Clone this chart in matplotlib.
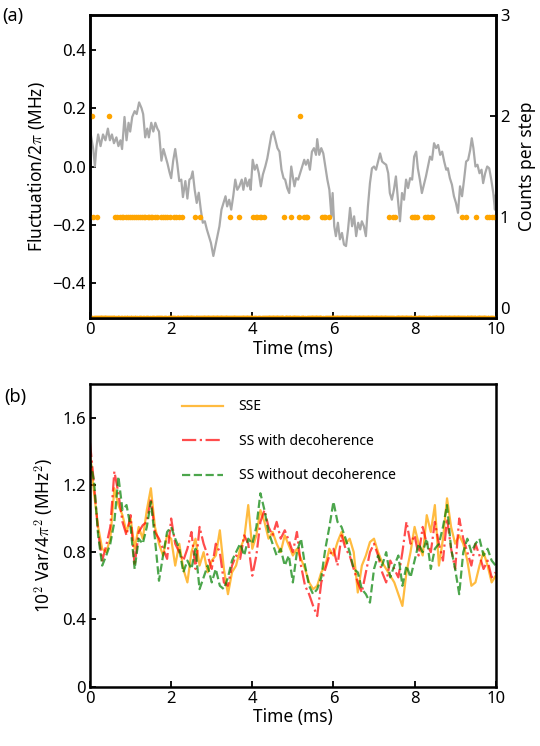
import numpy as np
import matplotlib
matplotlib.use('Agg')
import matplotlib.pyplot as plt

plt.rcParams['font.family'] = ['Noto Sans', 'DejaVu Sans']
plt.rcParams['mathtext.fontset'] = 'cm'
plt.rcParams['font.size'] = 12

# panel (a): fluctuation trace (ms, MHz)
t_fluct = [0.00, 0.03, 0.08, 0.12, 0.16, 0.20, 0.26, 0.32, 0.38, 0.44, 0.49, 0.54, 0.59, 0.65, 0.70, 0.75,
           0.79, 0.85, 0.90, 0.95, 0.99, 1.04, 1.10, 1.15, 1.21, 1.27, 1.31, 1.36, 1.41, 1.45, 1.51, 1.56,
           1.61, 1.66, 1.70, 1.76, 1.81, 1.85, 1.91, 1.96, 2.00, 2.05, 2.10, 2.15, 2.20, 2.25, 2.29, 2.35,
           2.40, 2.45, 2.49, 2.53, 2.58, 2.63, 2.68, 2.73, 2.78, 2.83, 2.88, 2.93, 2.98, 3.04, 3.09, 3.14,
           3.19, 3.24, 3.29, 3.34, 3.38, 3.43, 3.48, 3.53, 3.58, 3.63, 3.68, 3.74, 3.78, 3.83, 3.88, 3.93,
           3.96, 4.01, 4.06, 4.11, 4.16, 4.21, 4.26, 4.32, 4.37, 4.42, 4.47, 4.52, 4.57, 4.62, 4.67, 4.72,
           4.77, 4.81, 4.86, 4.91, 4.96, 5.01, 5.04, 5.08, 5.13, 5.18, 5.23, 5.28, 5.32, 5.37, 5.42, 5.47,
           5.52, 5.57, 5.60, 5.65, 5.70, 5.75, 5.80, 5.85, 5.90, 5.95, 5.98, 6.02, 6.06, 6.11, 6.16, 6.21,
           6.26, 6.31, 6.36, 6.41, 6.46, 6.51, 6.56, 6.61, 6.66, 6.70, 6.75, 6.80, 6.85, 6.90, 6.95, 7.00,
           7.05, 7.10, 7.15, 7.20, 7.25, 7.30, 7.35, 7.39, 7.44, 7.49, 7.54, 7.59, 7.64, 7.69, 7.74, 7.79,
           7.84, 7.89, 7.94, 7.99, 8.04, 8.08, 8.13, 8.18, 8.23, 8.28, 8.33, 8.38, 8.43, 8.48, 8.53, 8.58,
           8.63, 8.68, 8.73, 8.78, 8.82, 8.87, 8.92, 8.97, 9.02, 9.07, 9.12, 9.17, 9.22, 9.27, 9.32, 9.37,
           9.41, 9.45, 9.50, 9.55, 9.60, 9.65, 9.69, 9.74, 9.79, 9.84, 9.89, 9.94, 9.98, 10.0]
fluct = [0.13, 0.10, 0.06, 0.00, 0.07, 0.11, 0.07, 0.11, 0.09, 0.13, 0.09, 0.11, 0.08, 0.10, 0.07, 0.09,
         0.06, 0.17, 0.09, 0.15, 0.12, 0.17, 0.19, 0.18, 0.22, 0.20, 0.18, 0.10, 0.13, 0.10, 0.15, 0.12,
         0.15, 0.13, 0.12, 0.02, 0.06, 0.04, 0.01, -0.02, -0.04, 0.02, 0.06, 0.01, -0.05, -0.045, -0.105, -0.05,
         -0.11, -0.045, -0.04, -0.017, -0.08, -0.125, -0.09, -0.148, -0.193, -0.188, -0.216, -0.239, -0.262, -0.307, -0.273, -0.239,
         -0.205, -0.148, -0.125, -0.102, -0.137, -0.114, -0.148, -0.102, -0.045, -0.08, -0.068, -0.045, -0.08, -0.04, -0.068, -0.045,
         -0.08, 0.023, -0.011, 0.006, -0.023, -0.068, -0.028, 0.0, 0.028, 0.068, 0.108, 0.12, 0.091, 0.063, 0.051, -0.011,
         -0.04, -0.045, -0.074, -0.091, 0.0, -0.045, -0.068, -0.04, -0.045, -0.023, 0.0, 0.023, 0.006, 0.023, -0.011, 0.051,
         0.063, 0.04, 0.094, 0.04, 0.063, 0.045, 0.0, -0.045, -0.08, -0.171, -0.091, -0.205, -0.239, -0.193, -0.25, -0.228,
         -0.268, -0.273, -0.216, -0.142, -0.205, -0.171, -0.239, -0.193, -0.216, -0.188, -0.205, -0.239, -0.137, -0.057, -0.006, 0.0,
         -0.011, 0.017, 0.045, 0.017, 0.011, 0.006, -0.023, -0.091, -0.114, -0.08, -0.034, -0.114, -0.188, -0.091, -0.114, -0.045,
         -0.074, -0.04, -0.045, 0.034, 0.051, -0.006, -0.045, -0.091, -0.062, -0.034, 0.0, 0.034, 0.023, 0.08, 0.063, 0.074,
         0.04, 0.051, 0.017, -0.011, -0.006, -0.04, -0.062, -0.102, -0.125, -0.159, -0.068, -0.102, -0.045, 0.017, 0.023, 0.057,
         0.097, 0.063, 0.0, 0.006, -0.023, -0.011, -0.057, -0.023, 0.0, -0.006, -0.045, -0.091, -0.148, -0.10]

# click counts per time step
dt_step = 0.02
t_one = [0.08, 0.18, 0.62, 0.66, 0.74, 0.78, 0.82, 0.88, 0.94, 0.98, 1.04, 1.08, 1.14, 1.18, 1.22, 1.28,
         1.32, 1.36, 1.42, 1.46, 1.50, 1.54, 1.60, 1.66, 1.76, 1.80, 1.84, 1.90, 1.98, 2.08, 2.12, 2.20,
         2.26, 2.58, 2.70, 3.46, 3.68, 4.02, 4.08, 4.12, 4.18, 4.22, 4.30, 4.78, 4.96, 5.16, 5.28, 5.32,
         5.36, 5.72, 5.76, 5.80, 5.90, 7.36, 7.46, 7.52, 7.94, 7.98, 8.02, 8.06, 8.26, 8.30, 8.34, 8.40,
         8.44, 9.18, 9.26, 9.52, 9.78, 9.84, 9.90, 9.96]
t_two = [0.06, 0.48, 5.18]

# panel (b): variance traces, 10^2 Var/4pi^2 (MHz^2)
t_var = np.round(np.arange(0, 10.01, 0.1), 2)
var_sse = [1.40, 1.15, 0.95, 0.82, 0.80, 0.88, 1.18, 1.08, 1.02, 0.92, 1.00, 0.82, 0.95, 0.88, 1.05, 1.18,
           0.95, 0.85, 0.78, 0.90, 0.88, 0.72, 0.85, 0.70, 0.62, 0.80, 0.88, 0.72, 0.80, 0.68, 0.75, 0.78,
           0.93, 0.70, 0.55, 0.68, 0.72, 0.82, 0.88, 1.08, 0.82, 0.90, 1.05, 0.98, 0.88, 0.92, 0.85, 0.80,
           0.90, 0.84, 0.78, 0.82, 0.76, 0.70, 0.62, 0.58, 0.60, 0.68, 0.72, 0.82, 0.78, 0.86, 0.92, 0.85,
           0.88, 0.80, 0.56, 0.72, 0.78, 0.86, 0.88, 0.80, 0.74, 0.70, 0.66, 0.62, 0.55, 0.48, 0.68, 0.80,
           0.95, 0.85, 0.78, 1.02, 0.92, 1.08, 0.72, 0.88, 1.12, 0.95, 0.85, 0.90, 0.85, 0.75, 0.60, 0.62,
           0.72, 0.80, 0.72, 0.62, 0.66]
var_ss_dec = [1.45, 1.20, 0.92, 0.75, 0.84, 0.95, 1.28, 1.15, 0.98, 0.90, 1.02, 0.72, 0.92, 0.96, 0.98, 1.12,
              0.92, 0.88, 0.82, 0.76, 1.00, 0.85, 0.80, 0.75, 0.82, 0.92, 0.70, 0.95, 0.85, 0.78, 0.70, 0.85,
              0.80, 0.62, 0.60, 0.72, 0.78, 0.76, 0.90, 0.85, 0.66, 0.78, 0.98, 1.05, 0.95, 0.90, 0.98, 0.88,
              0.93, 0.87, 0.80, 0.92, 0.72, 0.60, 0.55, 0.48, 0.42, 0.62, 0.70, 0.78, 0.82, 0.72, 0.90, 0.82,
              0.78, 0.70, 0.62, 0.56, 0.68, 0.80, 0.85, 0.78, 0.68, 0.62, 0.75, 0.70, 0.65, 0.80, 0.98, 0.85,
              0.90, 0.78, 0.95, 0.85, 0.80, 0.98, 0.85, 0.75, 1.00, 0.82, 0.70, 1.00, 0.88, 0.80, 0.72, 0.85,
              0.78, 0.70, 0.75, 0.65, 0.68]
var_ss_nodec = [1.35, 1.22, 0.90, 0.72, 0.78, 0.85, 0.98, 1.25, 1.05, 1.08, 0.95, 0.70, 0.88, 0.85, 0.95, 1.10,
                0.88, 0.63, 0.78, 0.92, 0.95, 0.88, 0.82, 0.68, 0.75, 0.70, 0.82, 0.58, 0.65, 0.72, 0.62, 0.70,
                0.60, 0.58, 0.65, 0.75, 0.80, 0.85, 0.78, 0.88, 0.85, 0.95, 1.15, 1.05, 0.92, 0.85, 0.78, 0.82,
                0.72, 0.78, 0.62, 0.80, 0.88, 0.72, 0.60, 0.55, 0.58, 0.65, 0.82, 0.95, 1.10, 0.98, 0.95, 0.88,
                0.80, 0.70, 0.68, 0.58, 0.55, 0.50, 0.70, 0.78, 0.72, 0.80, 0.65, 0.72, 0.78, 0.60, 0.72, 0.65,
                0.75, 0.85, 0.80, 0.88, 0.70, 0.82, 0.85, 0.95, 1.08, 0.82, 0.70, 0.55, 0.80, 0.88, 0.80, 0.85,
                0.88, 0.78, 0.82, 0.75, 0.72]

# build counts per step from the event lists
t_steps = np.round(np.arange(0, 10 + dt_step / 2, dt_step), 2)
counts = np.zeros(len(t_steps))
counts[np.rint(np.array(t_one) / dt_step).astype(int)] = 1
counts[np.rint(np.array(t_two) / dt_step).astype(int)] = 2

fig = plt.figure(figsize=(5.4, 7.46), dpi=100)

# ---- (a)
ax1 = fig.add_axes([0.1667, 0.5737, 0.7513, 0.4062])
ax1.plot(t_fluct, fluct, color='darkgray', lw=1.6)
ax1.set_xlim(0, 10)
ax1.set_ylim(-0.52, 0.52)
ax1.set_yticks([-0.4, -0.2, 0.0, 0.2, 0.4])
ax1.set_yticklabels(['\u22120.4', '\u22120.2', '0.0', '0.2', '0.4'])
ax1.set_xticks([0, 2, 4, 6, 8, 10])
ax1.set_xlabel('Time (ms)', fontsize=12.5, labelpad=1)
ax1.set_ylabel('Fluctuation/2$\\pi$ (MHz)', fontsize=12.5, labelpad=4)

ax2 = ax1.twinx()
ax2.plot(t_steps, counts, 'o', color='orange', ms=4, mec='none')
ax2.set_ylim(0, 3)
ax2.set_yticks([0, 1, 2, 3])
ax2.set_ylabel('Counts per step', fontsize=12.5, labelpad=6)

for ax in (ax1, ax2):
    ax.tick_params(direction='in', length=4, width=1.3, labelsize=12, pad=3)
    for s in ax.spines.values():
        s.set_linewidth(1.8)
ax2.get_yticklabels()[0].set_va('bottom')
fig.text(0.005, 0.972, '(a)', fontsize=13)

# ---- (b)
ax3 = fig.add_axes([0.1667, 0.0795, 0.7513, 0.4058])
ax3.plot(t_var, var_sse, color='orange', alpha=0.75, lw=1.6, label='SSE')
ax3.plot(t_var, var_ss_dec, color='red', alpha=0.7, lw=1.6, ls='-.', label='SS with decoherence')
ax3.plot(t_var, var_ss_nodec, color='green', alpha=0.7, lw=1.6, ls='--', label='SS without decoherence')
ax3.set_xlim(0, 10)
ax3.set_ylim(0, 1.8)
ax3.set_yticks([0, 0.4, 0.8, 1.2, 1.6])
ax3.set_yticklabels(['0', '0.4', '0.8', '1.2', '1.6'])
ax3.set_xticks([0, 2, 4, 6, 8, 10])
ax3.set_xlabel('Time (ms)', fontsize=12.5, labelpad=1)
ax3.set_ylabel('10$^{\\mathsf{2}}$ Var/4$\\pi^{\\mathsf{2}}$ (MHz$^{\\mathsf{2}}$)', fontsize=12.5, labelpad=4)
ax3.tick_params(direction='in', length=4, width=1.3, labelsize=12, pad=3)
for s in ax3.spines.values():
    s.set_linewidth(1.8)
ax3.legend(loc='upper left', bbox_to_anchor=(0.195, 0.99), frameon=False, fontsize=10,
           handlelength=3.0, labelspacing=1.4, handletextpad=1.1)
fig.text(0.008, 0.461, '(b)', fontsize=13)

plt.savefig('out.png', dpi=100)
